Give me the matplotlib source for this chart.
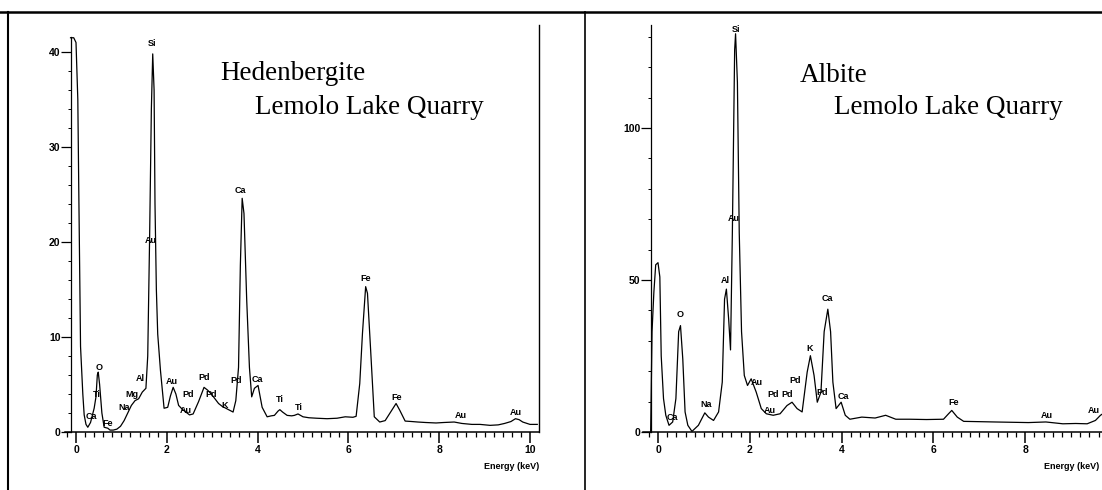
import numpy as np
import matplotlib.pyplot as plt
from matplotlib.lines import Line2D
from matplotlib.ticker import MultipleLocator

# Hedenbergite spectrum (energy keV, counts)
hed_e = [-0.12, -0.05, 0.0, 0.04, 0.06, 0.1, 0.15, 0.18, 0.22, 0.26, 0.32, 0.4, 0.44,
         0.47, 0.49, 0.52, 0.57, 0.62, 0.7, 0.75, 0.82, 0.9, 0.98, 1.06, 1.14, 1.22,
         1.3, 1.38, 1.46, 1.54, 1.58, 1.62, 1.66, 1.69, 1.72, 1.74, 1.77, 1.8, 1.86,
         1.94, 2.02, 2.08, 2.14, 2.2, 2.26, 2.34, 2.42, 2.5, 2.58, 2.7, 2.82, 2.9,
         2.98, 3.06, 3.14, 3.22, 3.3, 3.38, 3.46, 3.52, 3.58, 3.62, 3.66, 3.7, 3.76,
         3.82, 3.87, 3.93, 4.01, 4.1, 4.21, 4.3, 4.37, 4.45, 4.49, 4.55, 4.65, 4.75,
         4.81, 4.89, 5.0, 5.13, 5.3, 5.53, 5.75, 5.93, 6.1, 6.17, 6.25, 6.31, 6.38,
         6.42, 6.49, 6.57, 6.69, 6.81, 6.93, 7.05, 7.13, 7.25, 7.4, 7.53, 7.7, 7.93,
         8.1, 8.33, 8.5, 8.72, 8.9, 9.12, 9.3, 9.44, 9.58, 9.68, 9.76, 9.84, 10.0,
         10.16]
hed_c = [41.5, 41.5, 41.0, 35.0, 26.0, 9.0, 4.0, 1.8, 0.8, 0.5, 1.0, 2.5, 3.7,
         6.0, 6.3, 5.0, 2.0, 0.5, 0.4, 0.2, 0.2, 0.3, 0.6, 1.2, 2.0, 2.8,
         3.3, 3.5, 4.2, 4.6, 8.0, 20.0, 34.0, 39.8, 36.0, 24.0, 15.0, 10.3, 6.5,
         2.5, 2.6, 3.8, 4.7, 4.0, 2.8, 2.4, 2.1, 1.8, 1.9, 3.2, 4.7, 4.4,
         4.0, 3.5, 3.0, 2.7, 2.5, 2.3, 2.1, 3.3, 6.8, 17.5, 24.6, 23.0, 13.9,
         6.8, 3.7, 4.6, 4.9, 2.6, 1.6, 1.7, 1.75, 2.2, 2.35, 2.1, 1.75, 1.7,
         1.75, 1.9, 1.6, 1.5, 1.45, 1.4, 1.45, 1.6, 1.55, 1.65, 5.1, 10.4, 15.3,
         14.6, 8.6, 1.6, 1.05, 1.2, 2.1, 3.0, 2.3, 1.15, 1.1, 1.05, 1.0, 0.95,
         1.0, 1.05, 0.9, 0.8, 0.8, 0.7, 0.75, 0.9, 1.1, 1.4, 1.3, 1.05, 0.8,
         0.8]

# Albite spectrum
alb_e = [-0.16, -0.13, -0.09, -0.05, 0.0, 0.04, 0.07, 0.12, 0.17, 0.24, 0.32, 0.39,
         0.45, 0.49, 0.54, 0.59, 0.65, 0.74, 0.88, 1.02, 1.1, 1.21, 1.32, 1.4, 1.45,
         1.49, 1.54, 1.58, 1.62, 1.67, 1.69, 1.73, 1.77, 1.82, 1.88, 1.95, 2.03,
         2.14, 2.25, 2.36, 2.51, 2.66, 2.81, 2.92, 3.03, 3.14, 3.25, 3.32, 3.4,
         3.47, 3.55, 3.62, 3.7, 3.76, 3.81, 3.88, 3.99, 4.08, 4.18, 4.44, 4.73,
         4.96, 5.18, 5.48, 5.85, 6.22, 6.33, 6.4, 6.52, 6.66, 7.0, 7.33, 7.7, 8.07,
         8.45, 8.82, 9.1, 9.35, 9.53, 9.64, 9.67]
alb_c = [0.0, 33.0, 46.0, 55.0, 55.7, 51.0, 25.0, 11.0, 5.5, 2.2, 3.3, 11.0,
         33.0, 35.0, 24.0, 6.6, 2.2, 0.2, 2.2, 6.3, 4.9, 3.8, 6.6, 16.4, 43.7,
         47.0, 37.0, 27.0, 65.6, 125.7, 131.0, 115.0, 65.6, 33.0, 18.6, 15.3, 17.5,
         13.1, 7.7, 6.0, 5.5, 6.0, 8.7, 9.8, 7.7, 6.6, 19.7, 25.1, 18.6,
         9.8, 13.1, 33.0, 40.4, 33.0, 16.4, 7.7, 9.8, 5.5, 4.2, 4.9, 4.6,
         5.5, 4.2, 4.2, 4.1, 4.2, 6.0, 7.1, 4.9, 3.5, 3.4, 3.3, 3.2, 3.1,
         3.3, 2.7, 2.8, 2.7, 3.8, 5.5, 5.8]

# peak labels (element, energy, label height)
hed_lab = ["Si", "Au", "Ca", "Fe", "O", "Ti", "Ca", "Fe", "Na", "Mg", "Al", "Au", "Pd",
           "Au", "Pd", "Pd", "K", "Pd", "Ca", "Ti", "Ti", "Fe", "Au", "Au"]
hed_lab_e = [1.68, 1.64, 3.63, 6.37, 0.5, 0.46, 0.34, 0.7, 1.05, 1.24, 1.42, 2.12, 2.48,
             2.42, 2.83, 2.98, 3.28, 3.52, 4.0, 4.49, 4.91, 7.06, 8.47, 9.68]
hed_lab_c = [40.9, 20.2, 25.4, 16.2, 6.8, 4.0, 1.6, 0.9, 2.6, 4.0, 5.6, 5.3, 4.0,
             2.3, 5.7, 4.0, 2.8, 5.4, 5.5, 3.4, 2.6, 3.6, 1.75, 2.1]

alb_lab = ["Si", "Au", "Al", "Ca", "O", "K", "Au", "Pd", "Pd", "Pd", "Pd", "Ca", "Na",
           "Ca", "Au", "Fe", "Au", "Au"]
alb_lab_e = [1.69, 1.65, 1.47, 3.68, 0.49, 3.31, 2.15, 2.99, 2.5, 2.82, 3.57, 4.03, 1.05,
             0.32, 2.43, 6.43, 8.48, 9.5]
alb_lab_c = [132.5, 70.3, 49.7, 43.9, 38.5, 27.5, 16.4, 16.9, 12.2, 12.2, 13.1, 11.8, 9.0,
             4.9, 7.1, 9.6, 5.5, 7.0]

W, H = 1102, 490
fig = plt.figure(figsize=(W / 100, H / 100), dpi=100)
fig.patch.set_facecolor("white")


def px_axes(l, r, t, b):
    return fig.add_axes([l / W, 1 - b / H, (r - l) / W, (b - t) / H])


def style(ax, e, c, labs, lab_e, lab_c, xlim, ylim, ymaj, ymin, yspine):
    ax.plot(e, c, color="black", lw=0.9)
    for s, xe, yc in zip(labs, lab_e, lab_c):
        ax.text(xe, yc, s, fontsize=6.5, fontweight="bold", ha="center", va="center",
                family="Liberation Sans")
    ax.set_xlim(*xlim)
    ax.set_ylim(*ylim)
    for s in ["top", "right"]:
        ax.spines[s].set_visible(False)
    ax.spines["left"].set_position(("data", yspine))
    ax.spines["left"].set_linewidth(0.9)
    ax.spines["bottom"].set_linewidth(1.1)
    ax.xaxis.set_major_locator(MultipleLocator(2))
    ax.xaxis.set_minor_locator(MultipleLocator(0.2))
    ax.yaxis.set_major_locator(MultipleLocator(ymaj))
    ax.yaxis.set_minor_locator(MultipleLocator(ymin))
    ax.tick_params(axis="x", which="major", length=8, width=1.1, direction="out", pad=1)
    ax.tick_params(axis="x", which="minor", length=3.5, width=0.9, direction="out")
    ax.tick_params(axis="y", which="major", length=7, width=0.9, direction="out", pad=0.5)
    ax.tick_params(axis="y", which="minor", length=2.5, width=0.7, direction="out")
    for lab in ax.get_xticklabels() + ax.get_yticklabels():
        lab.set_fontsize(7.5)
        lab.set_fontweight("bold")
        lab.set_family("Liberation Sans")
    ax.patch.set_alpha(0)


# left panel: 0 keV at x=76px, 45.4 px/keV; 0 counts at y=432px, 9.5 px/count
ax1 = px_axes(65, 539, 37, 432)
style(ax1, hed_e, hed_c, hed_lab, hed_lab_e, hed_lab_c,
      ((65 - 76) / 45.4, (539 - 76) / 45.4), (0, (432 - 37) / 9.5), 10, 2, -0.11)

# right panel: 0 keV at x=658px, 45.9 px/keV; 3.04 px/count (cropped at the page edge)
ax2 = px_axes(643, 1102, 25, 432)
style(ax2, alb_e, alb_c, alb_lab, alb_lab_e, alb_lab_c,
      ((643 - 658) / 45.9, (1102 - 658) / 45.9), (0, (432 - 25) / 3.04), 50, 10, -0.15)

# axis titles
fig.text(539 / W, 1 - 466 / H, "Energy (keV)", fontsize=6.5, fontweight="bold",
         ha="right", va="center", family="Liberation Sans")
fig.text(1099 / W, 1 - 466 / H, "Energy (keV)", fontsize=6.5, fontweight="bold",
         ha="right", va="center", family="Liberation Sans")

# sample names
serif = "Liberation Serif"
fig.text(220 / W, 1 - 74 / H, "Hedenbergite", fontsize=19.5, family=serif, va="center")
fig.text(255 / W, 1 - 107 / H, "Lemolo Lake Quarry", fontsize=19.5, family=serif, va="center")
fig.text(800 / W, 1 - 75 / H, "Albite", fontsize=19.5, family=serif, va="center")
fig.text(834 / W, 1 - 107 / H, "Lemolo Lake Quarry", fontsize=19.5, family=serif, va="center")


# frame lines of the scanned page
def fline(x0, y0, x1, y1, lw):
    fig.add_artist(Line2D([x0 / W, x1 / W], [1 - y0 / H, 1 - y1 / H], color="black",
                          lw=lw, transform=fig.transFigure))


fline(0, 12, W, 12, 1.8)
fline(8, 12, 8, H, 1.5)
fline(585, 12, 585, H, 1.2)
fline(539, 25, 539, 432, 1.0)

fig.savefig("out.png", dpi=100)
